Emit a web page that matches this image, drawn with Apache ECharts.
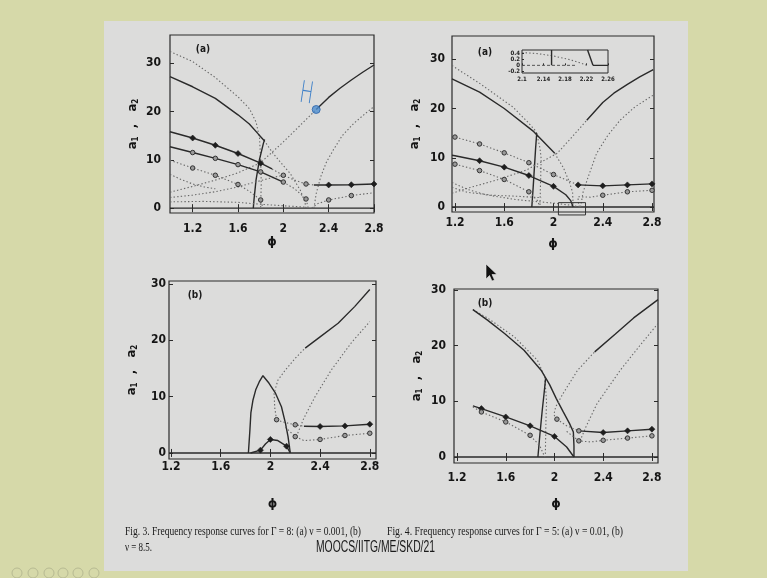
<!DOCTYPE html>
<html>
<head>
<meta charset="utf-8">
<script src="https://cdn.jsdelivr.net/npm/echarts@6/dist/echarts.min.js"></script>
<style>
html,body{margin:0;padding:0;background:#d6d9a9;}
#c{width:767px;height:578px;}
</style>
</head>
<body>
<div id="c"></div>
<script>
// ---- tick labels ----
const xTicks = [1.2, 1.6, 2, 2.4, 2.8];
const yTicks = [0, 10, 20, 30];
const insetXTicks = [2.1, 2.14, 2.18, 2.22, 2.26];
const insetYTicks = [-0.2, 0, 0.2, 0.4];

// ---- Fig. 3(a): Gamma = 8, nu = 0.001 ----
const tlZero = [[1.0, 0], [2.8, 0]];
const tlUpperSolid = [[1.0, 27.2], [1.2, 25.1], [1.4, 22.7], [1.6, 19.3], [1.7, 17.4], [1.78, 15.3], [1.83, 14.0]];
const tlUpperDotted = [[1.83, 14.0], [1.91, 11.3], [2.0, 8.8], [2.06, 7.2], [2.15, 3.7], [2.19, 1.3], [2.2, 0]];
const tlOuterDotted = [[1.0, 32.4], [1.2, 30.3], [1.4, 27.0], [1.6, 23.0], [1.7, 20.6], [1.76, 17.8], [1.79, 14.5], [1.8, 10], [1.805, 5], [1.8, 0]];
const tlFoldSolid = [[1.735, 0], [1.741, 1.7], [1.759, 5.8], [1.788, 9.9], [1.824, 13.4], [1.835, 14.2]];
const tlRiseDotted = [[1.0, 3.3], [1.2, 4.5], [1.4, 5.8], [1.6, 7.3], [1.8, 9.4], [2.0, 13.7], [2.2, 18.3], [2.29, 20.4]];
const tlRiseSolid = [[2.29, 20.4], [2.4, 22.9], [2.5, 24.8], [2.6, 26.5], [2.7, 28.1], [2.8, 29.6]];
const tlRightDotted = [[2.27, 0], [2.29, 3], [2.33, 6.5], [2.38, 9.5], [2.44, 12], [2.52, 15], [2.62, 17.5], [2.72, 19.5], [2.8, 21.0]];
const tlMarkTopSolid = [[1.0, 15.8], [1.2, 14.5], [1.4, 13.0], [1.6, 11.3], [1.8, 9.3], [1.9, 8.1]];
const tlMarkTopDotted = [[1.9, 8.1], [2.0, 6.8], [2.1, 5.8], [2.2, 5.0], [2.27, 4.8]];
const tlMarkRightSolid = [[2.27, 4.8], [2.4, 4.8], [2.6, 4.85], [2.8, 5.0]];
const tlMarkMidSolid = [[1.0, 12.7], [1.2, 11.5], [1.4, 10.3], [1.6, 9.0], [1.8, 7.5], [2.0, 5.4]];
const tlMarkMidDotted = [[2.0, 5.4], [2.1, 4.0], [2.2, 1.9], [2.22, 0]];
const tlMarkLowDotted = [[1.0, 9.9], [1.2, 8.3], [1.4, 6.8], [1.6, 4.9], [1.7, 3.5], [1.8, 1.7], [1.82, 0]];
const tlMarkRightLowDotted = [[2.25, 0], [2.3, 0.9], [2.4, 1.7], [2.6, 2.6], [2.8, 3.2]];
const tlBranchA = [[1.0, 7.0], [1.1, 5.9], [1.2, 5.0], [1.3, 4.4], [1.4, 4.0]];
const tlBranchB = [[1.0, 2.2], [1.2, 2.7], [1.4, 3.4], [1.6, 4.4], [1.75, 5.4], [1.9, 6.3], [2.0, 6.8]];
const tlBranchC = [[1.0, 1.3], [1.3, 1.4], [1.6, 1.2], [1.8, 0.8], [2.0, 0.5], [2.2, 0.2]];
const tlHopf = [[2.29, 20.4]];

// ---- Fig. 4(a): Gamma = 5, nu = 0.01 ----
const trZero = [[1.176, 0], [2.816, 0]];
const trUpperSolid = [[1.176, 26.0], [1.4, 23.3], [1.6, 20.0], [1.84, 15.3], [2.01, 10.9]];
const trUpperDotted = [[2.01, 10.9], [2.08, 8.0], [2.13, 5.0], [2.155, 3.0], [2.16, 0]];
const trOuterDotted = [[1.176, 28.7], [1.4, 25.1], [1.67, 20.3], [1.8, 17.0], [1.86, 15.3], [1.89, 12], [1.9, 9.8], [1.895, 5], [1.89, 0]];
const trFoldSolid = [[1.824, 0], [1.835, 4], [1.845, 8], [1.855, 12], [1.864, 15]];
const trRiseDotted = [[1.176, 2.8], [1.3, 3.8], [1.54, 5.5], [1.78, 7.5], [2.03, 10.9], [2.15, 14.2], [2.27, 17.6]];
const trRiseSolid = [[2.27, 17.6], [2.4, 21.2], [2.49, 23.1], [2.6, 24.9], [2.7, 26.4], [2.81, 27.9]];
const trRightDotted = [[2.22, 0], [2.24, 3], [2.28, 6], [2.35, 10.9], [2.44, 14.5], [2.54, 17.6], [2.66, 20.3], [2.81, 22.7]];
const trMarkSolid = [[1.176, 10.5], [1.2, 10.4], [1.4, 9.4], [1.6, 8.1], [1.8, 6.4], [2.0, 4.2], [2.1, 2.5], [2.14, 1.3], [2.16, 0]];
const trMarkDottedTop = [[1.176, 14.3], [1.2, 14.2], [1.4, 12.8], [1.6, 11.0], [1.8, 9.0], [2.0, 6.6], [2.2, 4.5]];
const trMarkSolidRight = [[2.2, 4.5], [2.4, 4.3], [2.6, 4.5], [2.8, 4.7]];
const trMarkDottedLow = [[1.176, 8.9], [1.2, 8.7], [1.4, 7.4], [1.6, 5.6], [1.8, 3.1], [1.87, 1.3], [1.89, 0]];
const trMarkDottedRight = [[2.21, 0], [2.2, 1.2], [2.2, 2.1], [2.3, 2.0], [2.4, 2.4], [2.6, 3.1], [2.8, 3.4]];
const trBranchA = [[1.176, 5.0], [1.3, 3.6], [1.45, 2.5], [1.7, 1.5], [2.0, 0.8], [2.15, 0.35], [2.22, 0]];
const trBranchB = [[1.176, 4.0], [1.3, 3.0], [1.5, 2.4], [1.7, 2.2], [1.9, 1.9]];
const trZoomRegion = [[2.04, 0.9], [2.26, 0.9], [2.26, -1.6], [2.04, -1.6], [2.04, 0.9]];

// ---- Fig. 4(a) inset ----
const inDotted = [[2.1, 0.42], [2.13, 0.38], [2.16, 0.3], [2.19, 0.18], [2.21, 0.07], [2.22, 0]];
const inVertical = [[2.155, 0.5], [2.155, 0]];
const inSlant = [[2.222, 0.5], [2.232, 0]];
const inZeroDashed = [[2.1, 0], [2.2, 0]];
const inZeroSolid = [[2.232, 0], [2.26, 0]];

// ---- Fig. 3(b): Gamma = 8, nu = 8.5 ----
const blZero = [[1.184, 0], [2.85, 0]];
const blHump = [[1.823, 0], [1.835, 4], [1.843, 7.1], [1.86, 9.4], [1.882, 11.2], [1.91, 12.6], [1.94, 13.7], [1.988, 12.4], [2.041, 10.6], [2.089, 8.2], [2.121, 5.3], [2.142, 2.9], [2.16, 0]];
const blSmallHump = [[1.84, 0], [1.92, 0.5], [1.96, 1.6], [2.0, 2.4], [2.06, 2.2], [2.13, 1.2], [2.16, 0]];
const blRiseDotted = [[2.05, 5.9], [2.035, 8], [2.03, 10.6], [2.06, 12.9], [2.12, 14.7], [2.2, 16.8], [2.28, 18.6]];
const blRiseSolid = [[2.28, 18.6], [2.4, 20.6], [2.545, 23.0], [2.68, 26.0], [2.8, 29.0]];
const blRightDotted = [[2.22, 3.5], [2.27, 6.2], [2.36, 10.0], [2.49, 14.7], [2.65, 19.5], [2.8, 23.3]];
const blMarkUpperDotted = [[2.05, 5.9], [2.1, 5.5], [2.2, 5.0], [2.27, 4.75]];
const blMarkUpperSolid = [[2.27, 4.75], [2.4, 4.7], [2.6, 4.8], [2.8, 5.1]];
const blMarkLowerDotted = [[2.12, 4.6], [2.2, 2.9], [2.27, 2.2], [2.4, 2.4], [2.6, 3.1], [2.8, 3.5]];

// ---- Fig. 4(b): Gamma = 5 ----
const brZero = [[1.175, 0], [2.85, 0]];
const brUpperSolid = [[1.33, 26.5], [1.45, 24.6], [1.59, 22.2], [1.75, 19.2], [1.89, 15.6], [1.96, 13.0], [2.015, 10.5], [2.07, 8.2], [2.124, 6.0], [2.155, 4.5], [2.16, 2], [2.16, 0]];
const brOuterDotted = [[1.33, 26.5], [1.45, 25.0], [1.67, 21.6], [1.86, 17.4], [1.92, 14.4], [1.935, 10], [1.93, 6.6], [1.925, 0.4], [1.92, 0]];
const brFoldSolid = [[1.864, 0], [1.88, 4], [1.9, 8.5], [1.915, 11.5], [1.927, 14.1]];
const brRiseDotted = [[2.02, 6.8], [1.995, 7.6], [2.01, 9.0], [2.07, 11.4], [2.19, 15.6], [2.33, 18.9]];
const brRiseSolid = [[2.33, 18.9], [2.5, 22.1], [2.65, 25.0], [2.85, 28.3]];
const brRightDotted = [[2.21, 2.9], [2.26, 5.5], [2.35, 9.6], [2.54, 15.6], [2.7, 20.0], [2.85, 24.0]];
const brMarkSolid = [[1.33, 9.2], [1.4, 8.7], [1.6, 7.2], [1.8, 5.6], [2.0, 3.7], [2.1, 1.8], [2.16, 0]];
const brMarkDotted = [[1.33, 9.0], [1.4, 8.1], [1.6, 6.3], [1.8, 3.9], [1.88, 2.0], [1.92, 0]];
const brMarkUpperDotted = [[2.02, 6.8], [2.1, 5.6], [2.2, 4.7]];
const brMarkUpperSolid = [[2.2, 4.7], [2.4, 4.4], [2.6, 4.7], [2.8, 5.0]];
const brMarkLowerDotted = [[2.1, 4.6], [2.2, 2.9], [2.3, 2.7], [2.4, 3.0], [2.6, 3.4], [2.8, 3.8]];

// ---- styles ----
const SOLID = { color: '#2a2a2a', width: 1.4, type: 'solid' };
const DOT = { color: '#686868', width: 1.1, type: [1.4, 2.2] };
const FILLED = { symbol: 'diamond', symbolSize: 6, itemStyle: { color: '#1e1e1e', borderColor: '#1e1e1e', borderWidth: 0.6 } };
const OPEN = { symbol: 'circle', symbolSize: 4.5, itemStyle: { color: '#9a9a9a', borderColor: '#333', borderWidth: 1 } };
const NUM_FONT = "'Liberation Sans Narrow','DejaVu Sans Condensed','Liberation Sans',Arial,sans-serif";

function curve(ax, data, style, marks, opts) {
  const items = data.map(d => {
    if (marks && marks.xs.some(x => Math.abs(x - d[0]) < 1e-9)) {
      return Object.assign({ value: d }, marks.kind);
    }
    return { value: d, symbol: 'none' };
  });
  return Object.assign({
    type: 'line', xAxisIndex: ax, yAxisIndex: ax, data: items,
    showSymbol: true, showAllSymbol: true, symbol: 'none',
    lineStyle: Object.assign({}, style), silent: true, animation: false, z: 3
  }, opts || {});
}

const series = [
  // Fig. 3(a)
  curve(0, tlZero, SOLID),
  curve(0, tlOuterDotted, DOT),
  curve(0, tlUpperSolid, SOLID),
  curve(0, tlUpperDotted, DOT),
  curve(0, tlFoldSolid, SOLID),
  curve(0, tlRiseDotted, DOT),
  curve(0, tlRiseSolid, SOLID),
  curve(0, tlRightDotted, DOT),
  curve(0, tlBranchA, DOT),
  curve(0, tlBranchB, DOT),
  curve(0, tlBranchC, DOT),
  curve(0, tlMarkTopSolid, SOLID, { xs: [1.2, 1.4, 1.6, 1.8], kind: FILLED }),
  curve(0, tlMarkTopDotted, DOT, { xs: [2.0, 2.2], kind: OPEN }),
  curve(0, tlMarkRightSolid, SOLID, { xs: [2.4, 2.6, 2.8], kind: FILLED }),
  curve(0, tlMarkMidSolid, SOLID, { xs: [1.2, 1.4, 1.6, 1.8, 2.0], kind: OPEN }),
  curve(0, tlMarkMidDotted, DOT, { xs: [2.2], kind: OPEN }),
  curve(0, tlMarkLowDotted, DOT, { xs: [1.2, 1.4, 1.6, 1.8], kind: OPEN }),
  curve(0, tlMarkRightLowDotted, DOT, { xs: [2.4, 2.6], kind: OPEN }),
  { type: 'scatter', xAxisIndex: 0, yAxisIndex: 0, data: tlHopf, symbol: 'circle', symbolSize: 8,
    itemStyle: { color: '#4d8fd1', borderColor: '#2a62a8', borderWidth: 1 }, silent: true, animation: false, z: 5 },

  // Fig. 4(a)
  curve(1, trZero, SOLID),
  curve(1, trOuterDotted, DOT),
  curve(1, trUpperSolid, SOLID),
  curve(1, trUpperDotted, DOT),
  curve(1, trFoldSolid, SOLID),
  curve(1, trRiseDotted, DOT),
  curve(1, trRiseSolid, SOLID),
  curve(1, trRightDotted, DOT),
  curve(1, trBranchA, DOT),
  curve(1, trBranchB, DOT),
  curve(1, trMarkSolid, SOLID, { xs: [1.4, 1.6, 1.8, 2.0], kind: FILLED }),
  curve(1, trMarkDottedTop, DOT, { xs: [1.2, 1.4, 1.6, 1.8, 2.0], kind: OPEN }),
  curve(1, trMarkSolidRight, SOLID, { xs: [2.2, 2.4, 2.6, 2.8], kind: FILLED }),
  curve(1, trMarkDottedLow, DOT, { xs: [1.2, 1.4, 1.6, 1.8], kind: OPEN }),
  curve(1, trMarkDottedRight, DOT, { xs: [2.4, 2.6, 2.8], kind: OPEN }),
  curve(1, trZoomRegion, { color: '#333', width: 1, type: 'solid' }, null, { clip: false }),

  // inset
  curve(8, inDotted, DOT),
  curve(8, inVertical, SOLID),
  curve(8, inSlant, SOLID),
  curve(8, inZeroDashed, { color: '#555', width: 1, type: [3, 2] }),
  curve(8, inZeroSolid, SOLID),

  // Fig. 3(b)
  curve(2, blZero, SOLID),
  curve(2, blHump, SOLID),
  curve(2, blSmallHump, SOLID, { xs: [1.92, 2.0, 2.13], kind: FILLED }),
  curve(2, blRiseDotted, DOT),
  curve(2, blRiseSolid, SOLID),
  curve(2, blRightDotted, DOT),
  curve(2, blMarkUpperDotted, DOT, { xs: [2.05, 2.2], kind: OPEN }),
  curve(2, blMarkUpperSolid, SOLID, { xs: [2.4, 2.6, 2.8], kind: FILLED }),
  curve(2, blMarkLowerDotted, DOT, { xs: [2.2, 2.4, 2.6, 2.8], kind: OPEN }),

  // Fig. 4(b)
  curve(3, brZero, SOLID),
  curve(3, brOuterDotted, DOT),
  curve(3, brUpperSolid, SOLID),
  curve(3, brFoldSolid, SOLID),
  curve(3, brRiseDotted, DOT),
  curve(3, brRiseSolid, SOLID),
  curve(3, brRightDotted, DOT),
  curve(3, brMarkSolid, SOLID, { xs: [1.4, 1.6, 1.8, 2.0], kind: FILLED }),
  curve(3, brMarkDotted, DOT, { xs: [1.4, 1.6, 1.8], kind: OPEN }),
  curve(3, brMarkUpperDotted, DOT, { xs: [2.02, 2.2], kind: OPEN }),
  curve(3, brMarkUpperSolid, SOLID, { xs: [2.4, 2.6, 2.8], kind: FILLED }),
  curve(3, brMarkLowerDotted, DOT, { xs: [2.2, 2.4, 2.6, 2.8], kind: OPEN })
];

// ---- panel frames ----
const grids = [
  { left: 170, top: 35, width: 204, height: 178 },
  { left: 452, top: 36, width: 202, height: 176 },
  { left: 169, top: 281, width: 207, height: 178 },
  { left: 454, top: 289, width: 204, height: 174 }
];
const xRanges = [[1.0, 2.8], [1.176, 2.816], [1.184, 2.85], [1.175, 2.85]];
const yRanges = [[-1, 35.8], [-1, 34.7], [-1.07, 30.5], [-1.08, 30.2]];
const xLabelMargin = [10, 5, 2, 9];
const yLabelMargin = [9, 7, 3, 8];
const xNameGap = [23, 26, 39, 35];

const gridOpt = grids.map(g => Object.assign({
  show: true, borderColor: '#2a2a2a', borderWidth: 1.2, backgroundColor: 'transparent'
}, g));
gridOpt.push({ left: 522, top: 50, width: 86, height: 23, show: true, borderColor: '#2a2a2a', borderWidth: 1, backgroundColor: 'transparent' });

const tickStyle = { show: true, inside: true, length: 4, lineStyle: { color: '#2a2a2a', width: 1 } };
const numLabel = { color: '#151515', fontFamily: NUM_FONT, fontWeight: 'bold', fontSize: 12 };

const yName = 'a{s|1}  ,   a{s|2}';
const yNameStyle = {
  color: '#151515', fontFamily: NUM_FONT, fontWeight: 'bold', fontSize: 13,
  rich: { s: { fontSize: 8, fontWeight: 'bold', fontFamily: NUM_FONT, color: '#151515', padding: [6, 0, 0, 0] } }
};

const xAxes = [], yAxes = [];
for (let i = 0; i < 4; i++) {
  xAxes.push({
    type: 'value', gridIndex: i, min: xRanges[i][0], max: xRanges[i][1], position: 'bottom',
    axisLine: { show: false }, splitLine: { show: false },
    axisTick: Object.assign({ customValues: xTicks }, tickStyle),
    axisLabel: Object.assign({ customValues: xTicks, margin: xLabelMargin[i], formatter: v => String(v) }, numLabel),
    name: 'ϕ', nameLocation: 'middle', nameGap: xNameGap[i],
    nameTextStyle: { color: '#151515', fontFamily: 'DejaVu Sans', fontWeight: 'bold', fontSize: 12 }
  });
  yAxes.push({
    type: 'value', gridIndex: i, min: yRanges[i][0], max: yRanges[i][1], position: 'left',
    axisLine: { show: false }, splitLine: { show: false },
    axisTick: Object.assign({ customValues: yTicks }, tickStyle),
    axisLabel: Object.assign({ customValues: yTicks, margin: yLabelMargin[i] }, numLabel),
    name: yName, nameLocation: 'middle', nameGap: 30, nameTextStyle: yNameStyle
  });
}
for (let i = 0; i < 4; i++) {
  xAxes.push({
    type: 'value', gridIndex: i, min: xRanges[i][0], max: xRanges[i][1], position: 'top',
    axisLine: { show: false }, splitLine: { show: false }, axisLabel: { show: false },
    axisTick: Object.assign({ customValues: xTicks }, tickStyle)
  });
  yAxes.push({
    type: 'value', gridIndex: i, min: yRanges[i][0], max: yRanges[i][1], position: 'right',
    axisLine: { show: false }, splitLine: { show: false }, axisLabel: { show: false },
    axisTick: Object.assign({ customValues: yTicks }, tickStyle)
  });
}
// inset axes
const tinyLabel = { color: '#222', fontFamily: NUM_FONT, fontWeight: 'bold', fontSize: 6 };
xAxes.push({
  type: 'value', gridIndex: 4, min: 2.1, max: 2.26, position: 'bottom',
  axisLine: { show: false }, splitLine: { show: false },
  axisTick: Object.assign({ customValues: insetXTicks }, tickStyle, { length: 2 }),
  axisLabel: Object.assign({ customValues: insetXTicks, margin: 3, formatter: v => String(v) }, tinyLabel)
});
yAxes.push({
  type: 'value', gridIndex: 4, min: -0.25, max: 0.5, position: 'left',
  axisLine: { show: false }, splitLine: { show: false },
  axisTick: Object.assign({ customValues: insetYTicks }, tickStyle, { length: 2 }),
  axisLabel: Object.assign({ customValues: insetYTicks, margin: 2, formatter: v => String(v) }, tinyLabel)
});

// ---- text fitting for the horizontally condensed page ----
const measureCtx = document.createElement('canvas').getContext('2d');
function fitScale(text, font, width) {
  measureCtx.font = font;
  return width / measureCtx.measureText(text).width;
}
function fittedText(text, x, y, size, family, width, extra) {
  const font = size + 'px ' + family;
  const sx = fitScale(text, font, width);
  return Object.assign({
    type: 'text', x: x, y: y, scaleX: sx, z: 20,
    style: { text: text, font: font, fill: '#1a1a1a', textVerticalAlign: 'middle' }
  }, extra || {});
}

const CAP1 = 'Fig. 3. Frequency response curves for \u0393 = 8: (a) \u03bd = 0.001, (b)';
const CAP1B = '\u03bd = 8.5.';
const CAP2 = 'Fig. 4. Frequency response curves for \u0393 = 5: (a) \u03bd = 0.01, (b)';
const FOOT = 'MOOCS/IITG/ME/SKD/21';
const SERIF = "'Liberation Serif','Times New Roman',serif";

const panelTag = (t, x, y) => ({
  type: 'text', x: x, y: y, z: 20,
  style: { text: t, font: "bold 10px " + NUM_FONT, fill: '#1a1a1a', textAlign: 'center', textVerticalAlign: 'middle' }
});

const toolbarXs = [17, 33, 49, 63, 78, 94];

const graphic = [
  { type: 'rect', shape: { x: 104, y: 21, width: 584, height: 550 }, style: { fill: '#dcdcdb' }, z: -100 },
  panelTag('(a)', 203, 49),
  panelTag('(a)', 485, 52),
  panelTag('(b)', 195, 295),
  panelTag('(b)', 485, 303),
  fittedText(CAP1, 125, 532, 13, SERIF, 236),
  fittedText(CAP1B, 125, 548, 13, SERIF, 27),
  fittedText(CAP2, 387, 532, 13, SERIF, 236),
  fittedText(FOOT, 316, 548, 16, "'Liberation Sans',Arial,sans-serif", 119),
  {
    type: 'text', x: 302, y: 79, z: 30, rotation: -0.15, scaleX: 0.6,
    style: { text: 'H', font: "300 30px 'DejaVu Sans'", fill: '#3f80c8' }
  },
  {
    type: 'polygon', z: 40,
    shape: { points: [[486, 264], [486, 279], [489.5, 275.5], [492, 281], [494.5, 280], [492, 274.5], [497, 274.5]] },
    style: { fill: '#111', stroke: '#eee', lineWidth: 0.6 }
  }
].concat(toolbarXs.map(x => ({
  type: 'circle', z: 10, shape: { cx: x, cy: 573, r: 5 },
  style: { fill: 'none', stroke: '#b7ba92', lineWidth: 1 }
})));

const chart = echarts.init(document.getElementById('c'), null, { renderer: 'canvas' });
chart.setOption({
  backgroundColor: '#d6d9a9',
  animation: false,
  grid: gridOpt,
  xAxis: xAxes,
  yAxis: yAxes,
  series: series,
  graphic: graphic
});
</script>
</body>
</html>
